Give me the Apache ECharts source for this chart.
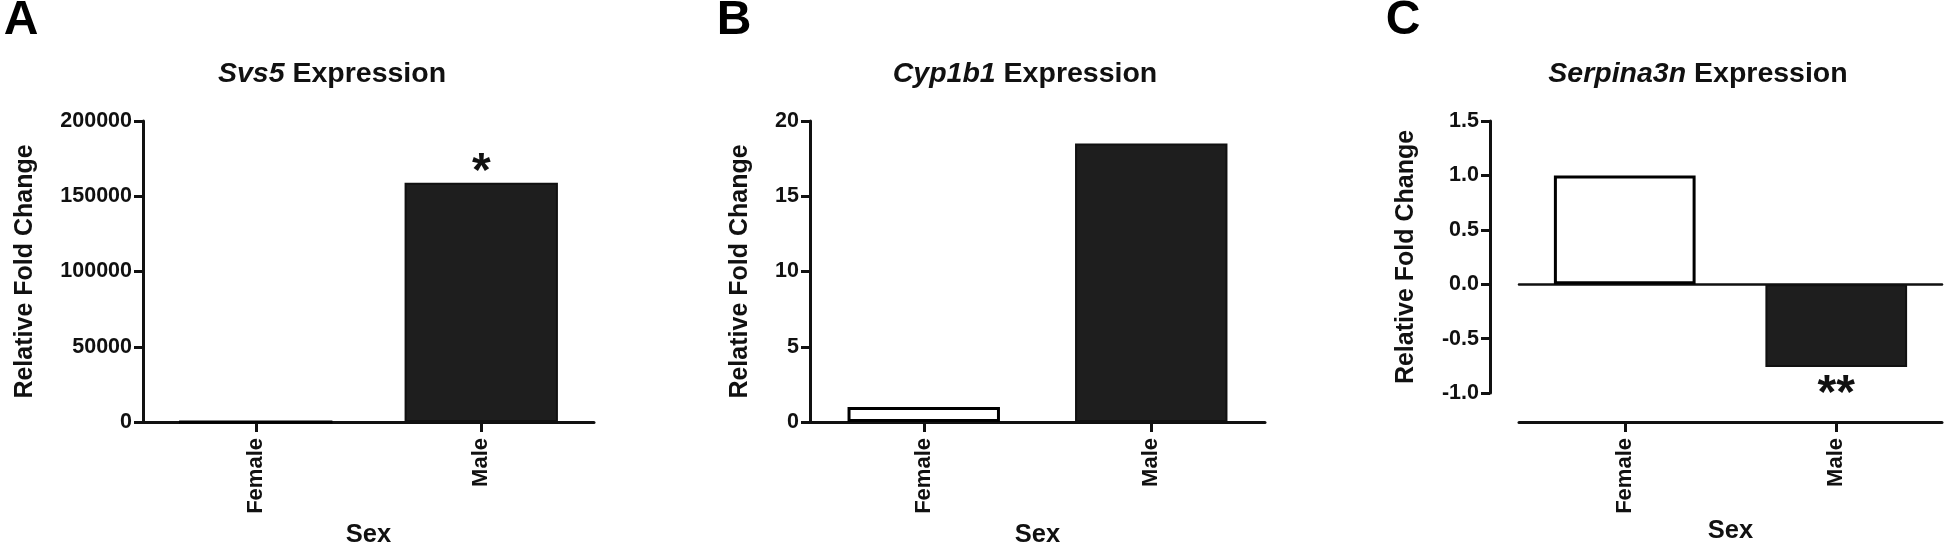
<!DOCTYPE html>
<html><head><meta charset="utf-8">
<script src="https://cdn.jsdelivr.net/npm/echarts@6/dist/echarts.min.js"></script>
<style>html,body{margin:0;padding:0;background:#fff}#c{width:1946px;height:544px}</style>
</head><body><div id="c"></div>
<script>
// ---- data ----
const categories = ['Female', 'Male'];
const svs5Values = [1, 159000];
const cyp1b1Values = [1.0, 18.5];
const serpina3nValues = [1.0, -0.76];
const svs5Sig = ['', '*'];
const cyp1b1Sig = ['', ''];
const serpina3nSig = ['', '**'];
const svs5Ticks = [0, 50000, 100000, 150000, 200000];
const cyp1b1Ticks = [0, 5, 10, 15, 20];
const serpina3nTicks = [-1.0, -0.5, 0.0, 0.5, 1.0, 1.5];
const panelLetters = ['A', 'B', 'C'];
const geneNames = ['Svs5', 'Cyp1b1', 'Serpina3n'];
const yTitle = 'Relative Fold Change';
const xTitle = 'Sex';

// ---- styles ----
const FONT = '"Liberation Sans", Arial, sans-serif';
const INK = '#111';
const axisLine = {color: INK, width: 3};
const barStyles = [
  {color: '#ffffff', borderColor: '#000', borderWidth: 3},
  {color: '#1e1e1e', borderColor: '#111', borderWidth: 2}
];
function barData(values) {
  return values.map((v, i) => ({value: v, itemStyle: barStyles[i]}));
}
function range(ticks) {
  return {min: ticks[0], max: ticks[ticks.length - 1], interval: ticks[1] - ticks[0]};
}
function yAxis(grid, ticks, fmt, nameGap, extra) {
  return Object.assign({
    gridIndex: grid, type: 'value', ...range(ticks),
    axisLine: {show: true, lineStyle: axisLine},
    axisTick: {show: true, length: 9, lineStyle: axisLine},
    splitLine: {show: false},
    axisLabel: {fontSize: 21.5, fontWeight: 'bold', color: INK, fontFamily: FONT, margin: 11, formatter: fmt},
    name: yTitle, nameLocation: 'middle', nameGap: nameGap,
    nameTextStyle: {fontSize: 25, fontWeight: 'bold', color: INK, fontFamily: FONT}
  }, extra || {});
}
function xAxis(grid, extra) {
  return Object.assign({
    gridIndex: grid, type: 'category', data: categories,
    axisLine: {show: true, onZero: false, lineStyle: axisLine},
    axisTick: {show: true, alignWithLabel: true, length: 10, lineStyle: axisLine},
    axisLabel: {rotate: 90, fontSize: 22, fontWeight: 'bold', color: INK, fontFamily: FONT, margin: 16},
    name: xTitle, nameLocation: 'middle', nameGap: 96,
    nameTextStyle: {fontSize: 25.5, fontWeight: 'bold', color: INK, fontFamily: FONT}
  }, extra || {});
}
function sigLabel(sig, pos, dist) {
  return {show: true, position: pos, distance: dist, formatter: p => sig[p.dataIndex],
    fontSize: 48, lineHeight: 20, fontWeight: 'bold', color: INK, fontFamily: FONT};
}
function titleText(x, gene) {
  return {type: 'text', x: x, y: 74, style: {
    text: '{i|' + gene + '} Expression', align: 'center', verticalAlign: 'middle',
    fontSize: 28.5, fontWeight: 'bold', fontFamily: FONT, fill: INK,
    rich: {i: {fontStyle: 'italic', fontWeight: 'bold', fontSize: 28.5, fontFamily: FONT, fill: INK}}
  }};
}
function letterText(x, letter) {
  return {type: 'text', x: x, y: 21, style: {text: letter, align: 'center', verticalAlign: 'middle',
    fontSize: 48, fontWeight: 'bold', fontFamily: FONT, fill: '#000'}};
}

const chart = echarts.init(document.getElementById('c'), null, {renderer: 'canvas'});
chart.setOption({
  animation: false,
  backgroundColor: '#ffffff',
  graphic: [
    letterText(21, panelLetters[0]), letterText(734, panelLetters[1]), letterText(1403, panelLetters[2]),
    titleText(332, geneNames[0]), titleText(1025, geneNames[1]), titleText(1698, geneNames[2])
  ],
  grid: [
    {left: 143, top: 121, width: 451, height: 301, outerBoundsMode: 'none', containLabel: false},
    {left: 810, top: 121, width: 455, height: 301, outerBoundsMode: 'none', containLabel: false},
    {left: 1519, top: 121, width: 423, height: 272, outerBoundsMode: 'none', containLabel: false}
  ],
  xAxis: [
    xAxis(0),
    xAxis(1),
    {gridIndex: 2, type: 'category', data: categories, position: 'top',
      axisLine: {show: true, onZero: true, lineStyle: {color: INK, width: 2.5}},
      axisTick: {show: false}, axisLabel: {show: false}},
    xAxis(2, {position: 'bottom', offset: 29})
  ],
  yAxis: [
    yAxis(0, svs5Ticks, v => String(v), 105),
    yAxis(1, cyp1b1Ticks, v => String(v), 57),
    yAxis(2, serpina3nTicks, v => v.toFixed(1), 71, {offset: 29})
  ],
  series: [
    {type: 'bar', xAxisIndex: 0, yAxisIndex: 0, barWidth: '68%', data: barData(svs5Values),
      label: sigLabel(svs5Sig, 'top', 0)},
    {type: 'bar', xAxisIndex: 1, yAxisIndex: 1, barWidth: '67%', data: barData(cyp1b1Values),
      label: sigLabel(cyp1b1Sig, 'top', 2)},
    {type: 'bar', xAxisIndex: 2, yAxisIndex: 2, barWidth: '67%', data: barData(serpina3nValues),
      label: sigLabel(serpina3nSig, 'bottom', 18)}
  ]
});
</script>
</body></html>
